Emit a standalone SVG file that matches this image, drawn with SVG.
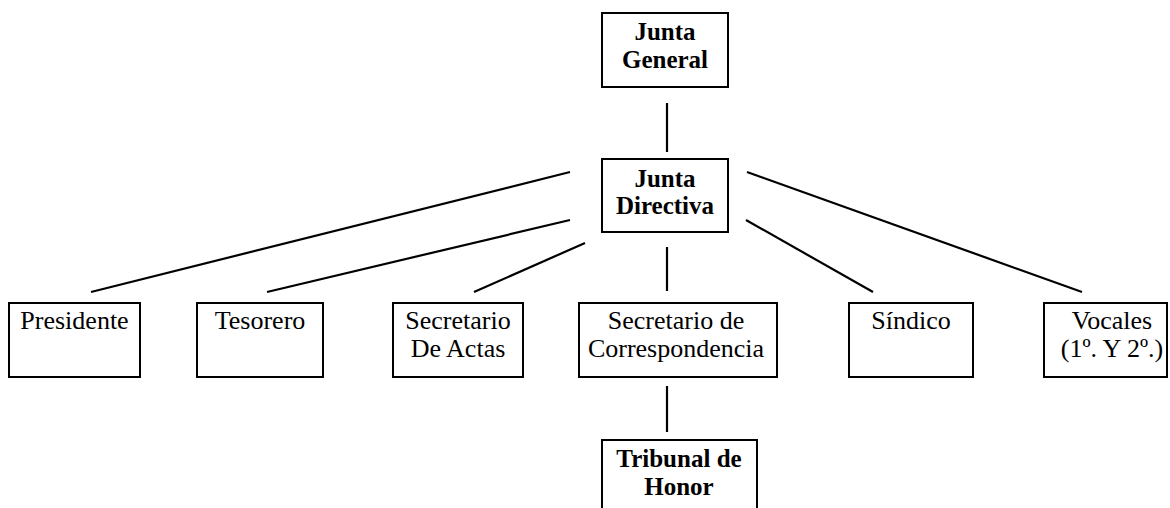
<svg xmlns="http://www.w3.org/2000/svg" width="1170" height="508" viewBox="0 0 1170 508">
<style>
.box{fill:#fff;stroke:#000;stroke-width:2}
.t{font-family:"Liberation Serif","Times New Roman",serif;font-size:26px;fill:#000;text-anchor:middle}
.b{font-weight:bold;font-size:25px}
.c line{stroke:#000;stroke-width:2.2}
</style>
<rect width="1170" height="508" fill="#fff"/>
<g class="c" id="connectors">
<line x1="667" y1="103" x2="667" y2="152"/>
<line x1="570" y1="172" x2="91" y2="292"/>
<line x1="570" y1="220" x2="267" y2="292"/>
<line x1="585" y1="243" x2="474" y2="292"/>
<line x1="667" y1="247" x2="667" y2="291"/>
<line x1="746" y1="220" x2="873" y2="292"/>
<line x1="747" y1="172" x2="1082" y2="292"/>
<line x1="667" y1="386" x2="667" y2="432"/>
</g>
<g id="junta-general">
<rect class="box" x="602" y="13" width="126" height="74"/>
<text class="t b" x="665" y="40">Junta</text>
<text class="t b" x="665" y="68">General</text>
</g>
<g id="junta-directiva">
<rect class="box" x="602" y="159" width="126" height="73"/>
<text class="t b" x="665" y="187">Junta</text>
<text class="t b" x="665" y="214">Directiva</text>
</g>
<g id="presidente">
<rect class="box" x="9" y="303" width="131" height="74"/>
<text class="t" x="74.5" y="329">Presidente</text>
</g>
<g id="tesorero">
<rect class="box" x="197" y="303" width="126" height="74"/>
<text class="t" x="260" y="329">Tesorero</text>
</g>
<g id="secretario-actas">
<rect class="box" x="393" y="303" width="130" height="74"/>
<text class="t" x="458" y="329">Secretario</text>
<text class="t" x="458" y="357">De Actas</text>
</g>
<g id="secretario-correspondencia">
<rect class="box" x="579" y="303" width="198" height="74"/>
<text class="t" x="676" y="329">Secretario de</text>
<text class="t" x="676" y="357">Correspondencia</text>
</g>
<g id="sindico">
<rect class="box" x="849" y="303" width="124" height="74"/>
<text class="t" x="911" y="329">Síndico</text>
</g>
<g id="vocales">
<rect class="box" x="1044" y="303" width="123" height="74"/>
<text class="t" x="1112" y="329">Vocales</text>
<text class="t" x="1112" y="357">(1º. Y 2º.)</text>
</g>
<g id="tribunal-honor">
<rect class="box" x="602" y="440" width="155" height="90"/>
<text class="t b" x="679" y="467">Tribunal de</text>
<text class="t b" x="679" y="495">Honor</text>
</g>
</svg>
